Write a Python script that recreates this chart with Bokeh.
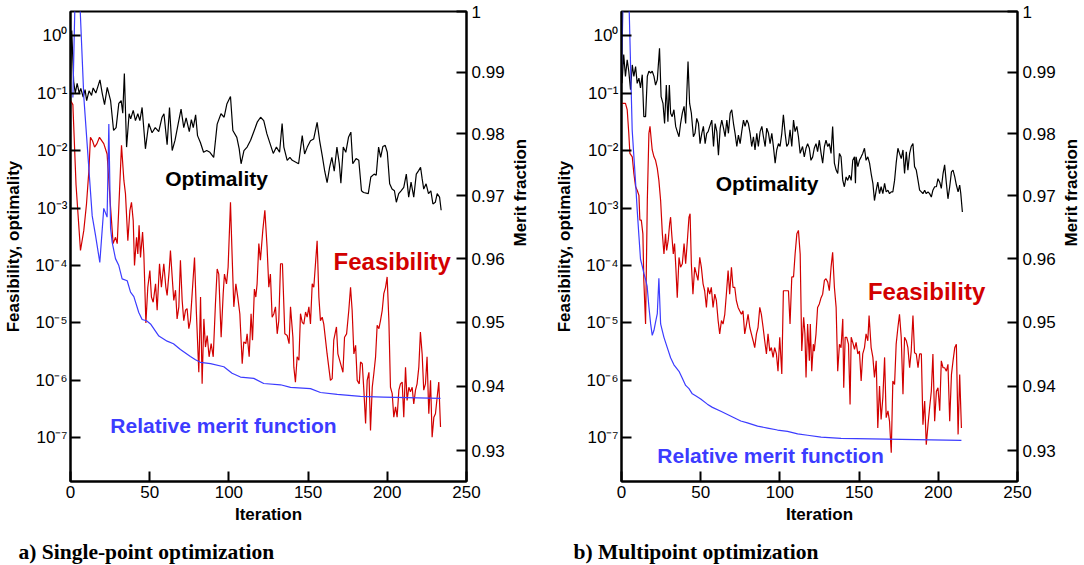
import math
import numpy as np
from bokeh.plotting import figure
from bokeh.models import Range1d, LinearAxis, FixedTicker, CustomJSTickFormatter, Title
from bokeh.layouts import row
from bokeh.embed import file_html
from bokeh.resources import INLINE
from bokeh.core.properties import value

SANS = "Liberation Sans"
SERIF = "Liberation Serif"
RED = "#d20000"
BLUE = "#3c3cff"
BLACK = "#000000"

# ---------------- data (iteration, log10 value) ----------------
opt_a = [(0, -0.78), (0.8, 0.09), (2, -0.8), (3, -1.0), (4.2, -0.83), (5.5, -1.0), (6.5, -0.92), (8, -1.07),
         (9.2, -0.94), (10.2, -1.13), (11.7, -0.96), (13.3, -1.04), (14.3, -0.91), (16, -1.0), (18.6, -0.77),
         (20, -1.0), (21.5, -1.2), (23.2, -0.9), (25.3, -1.13), (27.2, -1.65), (28.8, -1.6), (30.5, -1.18),
         (32, -1.13), (33, -1.35), (34, -0.66), (35.4, -1.94), (37, -1.36), (38, -1.45), (39.6, -1.3),
         (41, -1.48), (42.5, -1.36), (43.8, -1.48), (45.2, -1.25), (47.3, -1.97), (49.4, -1.53), (51.5, -1.69),
         (53.5, -1.6), (55.7, -1.67), (57.8, -1.42), (59, -1.36), (61, -1.9), (62.5, -1.25), (64.2, -2.0),
         (66, -1.82), (68, -1.53), (69.8, -1.28), (71.5, -1.6), (73, -1.43), (75, -1.67), (76.3, -1.46),
         (77.5, -1.6), (79, -1.38), (80.2, -1.74), (82, -1.86), (84, -2.03), (86, -2.0), (88, -2.03),
         (90.4, -2.12), (92.6, -1.54), (95, -1.36), (97, -1.42), (98.7, -1.19), (101, -1.06), (102.5, -1.65),
         (105, -1.77), (106.5, -1.97), (107.7, -2.23), (109.5, -2.0), (111.5, -1.94), (113.7, -1.82),
         (116, -1.65), (118, -1.5), (120, -1.42), (122, -1.48), (124, -1.71), (126, -1.88), (128, -2.05),
         (130, -1.94), (132, -2.03), (133.6, -1.53), (134.7, -1.94), (136.8, -2.17), (138.5, -2.12),
         (140, -2.17), (142, -2.2), (144, -2.23), (146.3, -1.74), (147.8, -2.06), (149.5, -1.94),
         (151.5, -1.83), (153.5, -1.8), (155.7, -1.51), (157.3, -1.83), (159, -2.1), (160.5, -2.36),
         (162, -2.56), (163.6, -2.29), (165, -2.12), (166.5, -2.36), (168.2, -1.94), (169.7, -2.23),
         (170.7, -2.57), (172.2, -1.94), (173.8, -2.03), (175.5, -1.77), (177, -1.68), (178.2, -2.23),
         (180.3, -2.14), (182, -2.17), (183.7, -2.7), (185, -2.73), (188, -2.75), (189.6, -2.46),
         (191.7, -2.41), (193, -2.43), (194.5, -1.94), (195.8, -2.12), (197.2, -1.93), (198.7, -1.91),
         (200, -2.03), (201.5, -2.58), (203, -2.67), (204.5, -2.7), (205.7, -2.9), (207.2, -2.75),
         (208.7, -2.7), (210.4, -2.64), (212, -2.41), (213.5, -2.81), (215, -2.55), (216.7, -2.81),
         (218.3, -2.41), (219.8, -2.35), (221, -2.29), (222, -2.49), (223, -2.67), (224.5, -2.58),
         (226, -2.75), (227.5, -2.7), (228.8, -2.93), (230.3, -2.9), (231.5, -2.75), (233, -2.81), (234, -3.04)]

feas_a = [(0, -1.13), (1.5, -1.2), (3.5, -2.6), (6.3, -3.74), (8.4, -3.39), (10.1, -2.93), (11.6, -2.35),
          (12.6, -1.77), (13.9, -1.83), (15.2, -1.94), (16.7, -1.88), (18.3, -1.77), (21.0, -1.88),
          (23.1, -2.06), (24.2, -2.52), (25.3, -2.99), (26.9, -3.62), (28.4, -3.51), (29.5, -3.62),
          (30.5, -2.99), (32.2, -1.91), (33.7, -2.52), (34.7, -2.75), (36.2, -3.57), (37.5, -3.04),
          (38.5, -2.9), (39.6, -3.22), (40.4, -4.0), (41.7, -3.51), (42.5, -3.8), (43.3, -3.3), (44.2, -3.86),
          (45.5, -3.42), (46.3, -3.8), (47.6, -5.0), (48.8, -4.38), (50.1, -4.09), (51.1, -4.55),
          (52.2, -4.64), (53.7, -4.32), (54.7, -4.78), (56.2, -3.97), (57.4, -4.38), (58.9, -3.97),
          (60.2, -4.38), (61, -4.52), (62.3, -4.09), (63.1, -3.74), (64.2, -4.2), (65.2, -4.61),
          (66.3, -4.43), (67.3, -4.93), (68.4, -4.72), (69.4, -3.91), (70.5, -4.61), (71.5, -4.96),
          (72.6, -4.78), (73.6, -4.75), (74.7, -5.1), (75.7, -4.96), (76.8, -4.49), (78.3, -3.86),
          (79.5, -4.84), (81, -5.86), (82.1, -4.55), (83.1, -6.06), (84.2, -4.93), (85.2, -5.42),
          (86.3, -5.22), (87.5, -5.59), (88.8, -5.36), (90.1, -5.59), (91.5, -4.67), (92.6, -4.06),
          (93.6, -4.15), (95.1, -5.25), (96.4, -4.49), (97.2, -4.15), (98.5, -4.32), (99.5, -4.03),
          (101, -2.9), (102, -3.8), (103.1, -4.72), (104.4, -4.32), (105.6, -4.55), (106.9, -4.84),
          (108.4, -5.71), (109.4, -5.33), (110.7, -5.36), (111.5, -5.19), (112.8, -5.59), (114, -4.84),
          (114.9, -5.3), (116.1, -4.41), (117, -4.55), (117.8, -4.32), (118.9, -3.62), (119.9, -3.91),
          (121.4, -3.39), (122.7, -3.04), (124.1, -3.68), (125.2, -4.38), (126.2, -4.15), (127.3, -4.9),
          (128.4, -4.84), (129.4, -4.72), (130.5, -5.19), (131.5, -4.96), (132.6, -3.97), (133.8, -3.97),
          (135.3, -5.19), (136.8, -5.22), (138, -5.36), (138.9, -4.72), (140.4, -5.25), (141, -5.77),
          (142, -6.03), (143.1, -5.59), (144.2, -5.65), (145.2, -4.84), (146.3, -4.99), (147.3, -5.02),
          (148.4, -4.81), (149.4, -4.9), (150.5, -4.72), (151.5, -5.02), (152.6, -4.32), (153.6, -4.38),
          (155.7, -3.57), (156.8, -4.55), (157.8, -4.96), (158.9, -4.9), (159.9, -5.02), (162, -5.54),
          (164.1, -6.0), (165.2, -5.97), (166.2, -5.3), (167.9, -5.07), (168.8, -5.54), (170.5, -5.71),
          (172, -5.86), (173, -5.25), (174.3, -5.19), (175.7, -4.78), (176.8, -4.38), (177.8, -4.78),
          (178.9, -5.54), (180, -5.39), (181, -6.0), (182.3, -6.06), (183.1, -5.68), (184.2, -5.71),
          (185.2, -6.17), (186.3, -6.75), (187.3, -6.0), (188.4, -5.86), (189.4, -6.87), (190.5, -6.12),
          (191.5, -5.88), (192.6, -5.59), (193.6, -5.04), (194.7, -5.1), (195.7, -4.96), (196.8, -4.78),
          (197.8, -4.49), (198.9, -4.38), (199.9, -4.2), (201, -4.96), (202, -6.12), (203.1, -6.23),
          (204.1, -6.64), (205.2, -6.46), (206.2, -6.64), (207.3, -6.17), (208.3, -6.06), (209.4, -6.03),
          (210.4, -6.64), (211.5, -5.77), (212.5, -6.35), (213.6, -6.12), (214.6, -6.2), (215.7, -6.12),
          (216.7, -6.41), (217.8, -6.17), (218.8, -6.06), (219.9, -5.77), (220.9, -5.16), (222, -5.54),
          (223, -6.17), (224.1, -6.06), (225.1, -5.59), (226.2, -6.58), (227.3, -6.0), (228.3, -6.99),
          (229.4, -6.64), (230.4, -6.58), (231.5, -6.29), (232.5, -6.03), (233.6, -6.81)]

# (iteration, merit fraction)
merit_a = [(1.5, 0.9859), (3.2, 1.006), (5.2, 1.006), (8.4, 0.986), (13.7, 0.9668), (15.8, 0.9637),
           (18.5, 0.9594), (21, 0.968), (23.1, 0.9666), (24.2, 0.9816), (25.3, 0.9648), (26.3, 0.9626),
           (28.4, 0.96), (30.5, 0.9589), (32.6, 0.9568), (35.8, 0.9565), (37.9, 0.9547), (40, 0.954),
           (43.1, 0.9515), (45.2, 0.9504), (48, 0.9502), (50.5, 0.9497), (55.8, 0.9478), (61, 0.947),
           (65, 0.9466), (69.4, 0.9457), (75.7, 0.9446), (78.9, 0.9441), (82, 0.9437), (88.4, 0.9435),
           (96.8, 0.943), (102, 0.942), (107.3, 0.9414), (115.7, 0.9412), (122, 0.9404), (132.6, 0.9402),
           (138.9, 0.9398), (151.5, 0.9396), (157.8, 0.939), (168.4, 0.9387), (183.1, 0.9384),
           (197.6, 0.9383), (233.6, 0.9381)]

opt_b = [(0.3, -0.83), (1.4, -0.33), (2.5, -0.71), (3.6, -0.42), (4.6, -0.62), (5.7, -0.94), (6.8, -0.51),
         (7.8, -0.71), (8.9, -0.54), (9.9, -0.83), (11, -0.74), (12, -0.91), (13.1, -0.68), (14.1, -1.41),
         (15.2, -1.41), (16.3, -0.71), (17.3, -0.62), (18.4, -0.65), (19.4, -0.62), (20.5, -0.71),
         (21.5, -0.86), (22.6, -0.77), (24, -0.22), (25, -1.06), (26.2, -1.18), (27.2, -1.53), (28.3, -0.86),
         (29.3, -1.5), (30.2, -0.86), (31, -1.35), (32, -1.41), (33.1, -1.29), (34.2, -1.58), (35.2, -1.67),
         (36.3, -1.76), (37.3, -1.53), (38.4, -1.35), (39.5, -1.23), (40.5, -1.53), (42, -0.45), (43, -1.18),
         (44.1, -1.35), (45.4, -1.76), (46.4, -1.7), (47.5, -1.44), (48.6, -1.53), (49.6, -1.88),
         (50.7, -1.7), (51.7, -1.58), (52.8, -1.88), (53.8, -1.7), (54.7, -1.67), (55.7, -1.58), (57, -1.47),
         (58.1, -1.93), (59.1, -1.53), (60.2, -1.67), (61.2, -2.08), (62.3, -1.61), (63.3, -1.47),
         (64.4, -1.61), (65.4, -1.76), (66.5, -1.47), (67.5, -1.7), (68.6, -1.35), (69.6, -1.29),
         (70.7, -1.53), (71.7, -1.7), (72.8, -1.93), (73.8, -1.73), (74.9, -1.88), (75.9, -1.67), (77, -1.47),
         (78, -1.58), (79.1, -1.47), (80.1, -1.53), (81.2, -1.7), (82.2, -1.93), (83.3, -1.76), (84.3, -1.99),
         (85.4, -1.7), (86.4, -1.93), (87.5, -1.67), (88.6, -1.58), (89.6, -1.76), (90.7, -1.93),
         (91.7, -1.61), (92.8, -1.7), (93.8, -1.88), (94.9, -1.7), (95.9, -1.93), (97, -2.22), (98, -1.99),
         (99.1, -1.88), (100.1, -1.93), (101.2, -1.7), (102.2, -1.38), (103.3, -1.7), (104.3, -1.93),
         (105.4, -1.88), (106.4, -1.64), (107.5, -1.93), (108.6, -1.47), (109.6, -1.67), (110.7, -1.58),
         (111.7, -1.76), (112.8, -2.05), (114.3, -1.93), (115.4, -2.11), (116.5, -1.96), (117.5, -1.88),
         (118.6, -1.96), (119.6, -2.17), (120.7, -2.11), (121.7, -1.96), (122.8, -1.88), (123.8, -2.02),
         (124.9, -1.82), (126, -2.05), (127, -2.22), (128.1, -1.93), (129.1, -1.82), (130.2, -1.93),
         (131.2, -1.88), (132.3, -2.05), (133.3, -1.58), (134.4, -2.22), (135.5, -2.34), (136.5, -2.4),
         (137.6, -2.05), (138.6, -2.11), (139.7, -2.52), (140.7, -2.63), (141.8, -2.46), (142.8, -2.52),
         (143.9, -2.43), (145, -2.52), (146, -2.17), (147.1, -2.11), (147.7, -2.57), (148.1, -2.11),
         (149.2, -2.28), (150.2, -2.17), (151.3, -2.11), (152.3, -2.05), (153.4, -1.96), (154.4, -2.17),
         (155.5, -2.11), (156.6, -2.22), (157.6, -2.4), (158.7, -2.57), (159.7, -2.87), (160.8, -2.69),
         (161.8, -2.55), (162.9, -2.75), (163.9, -2.63), (165, -2.75), (166.1, -2.57), (167.1, -2.72),
         (168.2, -2.69), (169.2, -2.75), (170.3, -2.72), (171.3, -2.72), (172.4, -2.52), (173.4, -2.22),
         (174.5, -1.96), (175.5, -2.05), (176.6, -2.14), (177.7, -1.99), (178.7, -2.4), (179.8, -2.02),
         (180.8, -2.34), (181.9, -2.05), (182.9, -1.93), (184, -1.88), (185, -2.28), (186.1, -2.34),
         (187.2, -2.52), (188.2, -2.69), (189.3, -2.72), (190.3, -2.75), (191.4, -2.69), (192.4, -2.75),
         (193.5, -2.72), (194.5, -2.75), (195.6, -2.81), (196.6, -2.69), (197.7, -2.63), (198.8, -2.63),
         (199.8, -2.49), (200.9, -2.55), (201.9, -2.66), (203, -2.4), (204, -2.25), (205.1, -2.57),
         (206.1, -2.84), (207.2, -2.63), (208.3, -2.37), (209.3, -2.34), (210.4, -2.46), (211.4, -2.6),
         (212.5, -2.72), (213.5, -2.6), (214.2, -2.75), (215.2, -3.07)]

feas_b = [(0.4, -1.18), (2.5, -1.18), (3.6, -1.29), (4.6, -1.7), (5.3, -2.05), (6.8, -2.11), (7.8, -2.4),
          (8.9, -2.63), (9.9, -2.69), (11, -2.78), (11.6, -3.21), (12.5, -3.21), (13.5, -3.45), (14.1, -4.26),
          (15.2, -5.02), (16.3, -2.87), (17.3, -1.7), (18, -1.58), (18.8, -1.82), (19.4, -1.99), (20.5, -2.11),
          (21.5, -2.17), (22.6, -2.31), (23.6, -2.52), (24.7, -2.87), (25.8, -3.45), (26.8, -3.8),
          (27.8, -3.45), (28.5, -3.74), (29.5, -3.56), (30.4, -3.27), (31, -3.16), (31.7, -3.45), (32.7, -3.8),
          (33.5, -3.62), (34.3, -4.03), (35.2, -4.56), (36.3, -3.86), (37.3, -4.03), (38.4, -3.97),
          (39.5, -3.62), (40.5, -3.97), (41.6, -3.56), (42.6, -3.16), (43.3, -3.1), (44.1, -3.97),
          (45.1, -4.5), (46.2, -4.03), (47.3, -4.15), (48.3, -4.26), (49.4, -3.86), (50.4, -4.03),
          (51.5, -4.32), (52.5, -4.44), (53.6, -4.73), (54.6, -4.38), (55.7, -4.5), (56.7, -4.38),
          (57.8, -4.73), (58.9, -4.5), (59.9, -4.61), (61, -4.96), (62, -5.19), (63.1, -4.96), (64.1, -5.02),
          (65.2, -4.85), (66.2, -4.5), (67.3, -4.09), (68.3, -4.5), (69.4, -4.03), (70.4, -4.38),
          (71.5, -4.38), (72.5, -4.61), (73.6, -4.73), (74.6, -4.79), (75.7, -4.85), (76.7, -4.79),
          (77.8, -5.19), (78.9, -5.02), (79.9, -4.85), (81, -5.08), (82, -5.19), (83.1, -5.31), (84.1, -5.43),
          (85.2, -5.19), (86.2, -5.08), (87.3, -4.73), (88.3, -4.85), (89.4, -5.08), (90.4, -5.31),
          (91.5, -5.54), (92.5, -5.19), (93.6, -5.49), (94.6, -5.43), (95.7, -5.6), (96.7, -5.43),
          (97.8, -5.54), (98.8, -5.84), (99.9, -5.25), (101.2, -5.89), (102.2, -4.44), (103.3, -4.44),
          (104.3, -4.44), (105.4, -4.44), (106.4, -5.02), (107.5, -4.2), (108.6, -4.2), (109.6, -3.8),
          (110.7, -3.45), (111.7, -3.39), (112.8, -3.8), (113.8, -5.49), (115, -4.9), (115.8, -5.19),
          (116.5, -5.95), (117.5, -5.02), (118.6, -5.66), (119.2, -5.02), (120.1, -5.84), (121.1, -5.37),
          (121.7, -5.49), (122.8, -5.19), (123.8, -4.73), (124.9, -4.67), (126, -4.56), (127, -4.5),
          (128.1, -4.26), (129.1, -4.23), (130.2, -4.29), (131.2, -4.44), (132.3, -4.03), (133.3, -3.77),
          (134.4, -4.38), (135.5, -4.73), (136.5, -5.84), (137.6, -5.37), (138.6, -5.43), (139.7, -4.93),
          (140.3, -6.13), (141.2, -5.25), (142.2, -5.25), (143.3, -5.37), (144.3, -6.42), (145, -5.25),
          (146, -5.34), (147.1, -5.46), (148.1, -5.34), (149.2, -5.54), (150.2, -5.49), (151.3, -6.01),
          (152.3, -5.54), (153.4, -5.43), (154.4, -5.19), (155.5, -5.31), (156.3, -4.87), (157.6, -5.43),
          (158.7, -5.6), (159.7, -5.95), (160.8, -5.66), (161.8, -6.83), (162.9, -6.1), (163.9, -6.68),
          (165, -6.3), (166.1, -5.6), (167.1, -6.65), (168.2, -6.53), (169.2, -6.71), (170.3, -7.26),
          (171.3, -6.01), (172.4, -6.07), (173.4, -5.37), (174.5, -5.08), (175.5, -4.85), (176.6, -5.25),
          (177.7, -6.24), (178.7, -5.25), (179.8, -5.31), (180.8, -5.43), (181.9, -5.78), (182.9, -5.49),
          (184, -4.87), (185, -5.52), (186.1, -5.54), (187.2, -5.78), (188.2, -5.54), (189.3, -5.54),
          (190.3, -6.77), (191.4, -6.36), (192.4, -7.12), (193.5, -6.77), (194.5, -6.48), (195.6, -6.19),
          (196.6, -5.54), (197.7, -6.71), (198.8, -6.19), (199.8, -6.13), (200.9, -6.53), (201.9, -5.66),
          (203, -5.78), (204, -5.78), (205.1, -5.84), (206.1, -5.72), (207.2, -6.71), (208.3, -5.9),
          (209.3, -5.66), (210.4, -5.43), (211.4, -5.37), (212.5, -6.94), (213.5, -5.9), (214.6, -6.83)]

merit_b = [(0, 0.9897), (1.1, 1.003), (4.5, 1.004), (6.75, 0.9806), (7.8, 0.9764), (8.9, 0.9721), (9.9, 0.9678),
           (11, 0.9636), (12, 0.9599), (13.1, 0.9588), (14.1, 0.9577), (15.2, 0.9567), (16.2, 0.9556),
           (17.3, 0.9524), (18.4, 0.9497), (19.4, 0.9479), (20.5, 0.9487), (21.5, 0.95), (22.6, 0.9513),
           (23.6, 0.9569), (24.7, 0.9497), (25.7, 0.9487), (26.8, 0.9476), (28.9, 0.946), (31, 0.9444),
           (33.1, 0.9433), (36.3, 0.9423), (38.4, 0.9412), (40.5, 0.9401), (42.6, 0.9396), (44.7, 0.9388),
           (46.8, 0.9385), (50, 0.938), (54.2, 0.9372), (57.4, 0.9367), (62.7, 0.9361), (66.9, 0.9356),
           (71.1, 0.9351), (75.3, 0.9346), (79.5, 0.9343), (85.9, 0.9338), (92.2, 0.9335), (98.5, 0.9332),
           (104.8, 0.933), (111.2, 0.9326), (117.5, 0.9324), (126, 0.9321), (138.6, 0.9319), (214.6, 0.9316)]

x_ticks = [0, 50, 100, 150, 200, 250]
left_ticks = [1e0, 1e-1, 1e-2, 1e-3, 1e-4, 1e-5, 1e-6, 1e-7]
right_ticks = [0.93, 0.94, 0.95, 0.96, 0.97, 0.98, 0.99, 1.0]

series_labels = ["Optimality", "Feasibility", "Relative merit function"]
captions = ["a) Single-point optimization", "b) Multipoint optimization"]

# label anchor positions (iteration, value) per panel
label_pos = [
    [(92.2, 10 ** -2.49), (203.1, 10 ** -3.93), (96.6, 10 ** -6.78)],
    [(91.9, 10 ** -2.57), (192.6, 10 ** -4.46), (94.1, 10 ** -7.30)],
]

LOG_FMT = """
const e = Math.round(Math.log10(tick));
const sup = {"-": "\\u207B", "0": "\\u2070", "1": "\\u00B9", "2": "\\u00B2", "3": "\\u00B3",
             "4": "\\u2074", "5": "\\u2075", "6": "\\u2076", "7": "\\u2077", "8": "\\u2078", "9": "\\u2079"};
return "10" + String(e).split("").map(c => sup[c]).join("");
"""
MERIT_FMT = """
return Math.abs(tick - 1) < 1e-9 ? "1" : tick.toFixed(2);
"""


def split(pairs):
    xs = [a for a, _ in pairs]
    ys = [b for _, b in pairs]
    return xs, ys


def style_axis(ax):
    ax.axis_line_width = 2
    ax.axis_line_color = BLACK
    ax.major_tick_in = 10
    ax.major_tick_out = 0
    ax.major_tick_line_width = 2
    ax.major_tick_line_color = BLACK
    ax.minor_tick_in = 0
    ax.minor_tick_out = 0
    ax.minor_tick_line_color = None
    ax.major_label_text_font = SANS
    ax.major_label_text_font_size = "17px"
    ax.major_label_text_color = BLACK
    ax.axis_label_text_font = SANS
    ax.axis_label_text_font_size = "17px"
    ax.axis_label_text_font_style = "bold"
    ax.axis_label_text_color = BLACK


def make_panel(opt, feas, merit, caption, lpos, border_left, border_right, cap_offset):
    p = figure(frame_width=396, frame_height=470,
               x_range=Range1d(0, 250), y_range=Range1d(10 ** -7.76, 10 ** 0.42),
               y_axis_type="log", output_backend="svg", toolbar_location=None,
               min_border_left=border_left, min_border_right=border_right,
               min_border_top=11, min_border_bottom=84)
    p.title = None
    p.xgrid.visible = False
    p.ygrid.visible = False
    p.outline_line_color = BLACK
    p.outline_line_width = 2
    p.background_fill_color = "white"
    p.border_fill_color = "white"

    p.extra_y_ranges = {"merit": Range1d(0.9253, 1.0)}

    xa = p.xaxis[0]
    style_axis(xa)
    xa.ticker = FixedTicker(ticks=x_ticks)
    xa.axis_label = "Iteration"
    xa.major_label_standoff = 4
    xa.axis_label_standoff = 4

    ya = p.yaxis[0]
    style_axis(ya)
    ya.ticker = FixedTicker(ticks=left_ticks)
    ya.formatter = CustomJSTickFormatter(code=LOG_FMT)
    ya.axis_label = "Feasibility, optimality"
    ya.major_label_standoff = 3
    ya.axis_label_standoff = 9

    ra = LinearAxis(y_range_name="merit")
    style_axis(ra)
    ra.ticker = FixedTicker(ticks=right_ticks)
    ra.formatter = CustomJSTickFormatter(code=MERIT_FMT)
    ra.axis_label = "Merit fraction"
    ra.major_label_standoff = 5
    ra.axis_label_standoff = 13
    try:
        ra.axis_label_orientation = math.pi / 2
    except Exception:
        pass
    p.add_layout(ra, "right")

    ox, oy = split(opt)
    fx, fy = split(feas)
    mx, my = split(merit)
    p.line(ox, list(10.0 ** np.array(oy)), line_color=BLACK, line_width=1.2)
    p.line(fx, list(10.0 ** np.array(fy)), line_color=RED, line_width=1.2)
    p.line(mx, my, line_color=BLUE, line_width=1.2, y_range_name="merit")

    colors = [BLACK, RED, BLUE]
    sizes = ["21px", "24px", "21px"]
    for (lx, ly), txt, c, s in zip(lpos, series_labels, colors, sizes):
        p.text(x=[lx], y=[ly], text=[txt], text_font=value(SANS), text_font_style="bold",
               text_font_size=s, text_color=c, text_align="center", text_baseline="middle")

    cap = Title(text=caption, align="left", offset=cap_offset, text_font=SERIF,
                text_font_size="21.5px", text_font_style="bold", text_color=BLACK, standoff=22)
    p.add_layout(cap, "below")
    return p


pa = make_panel(opt_a, feas_a, merit_a, captions[0], label_pos[0], 70, 86, -52)
pb = make_panel(opt_b, feas_b, merit_b, captions[1], label_pos[1], 69, 67, -48)

layout = row(pa, pb)
open("out.html", "w").write(file_html(layout, INLINE))
